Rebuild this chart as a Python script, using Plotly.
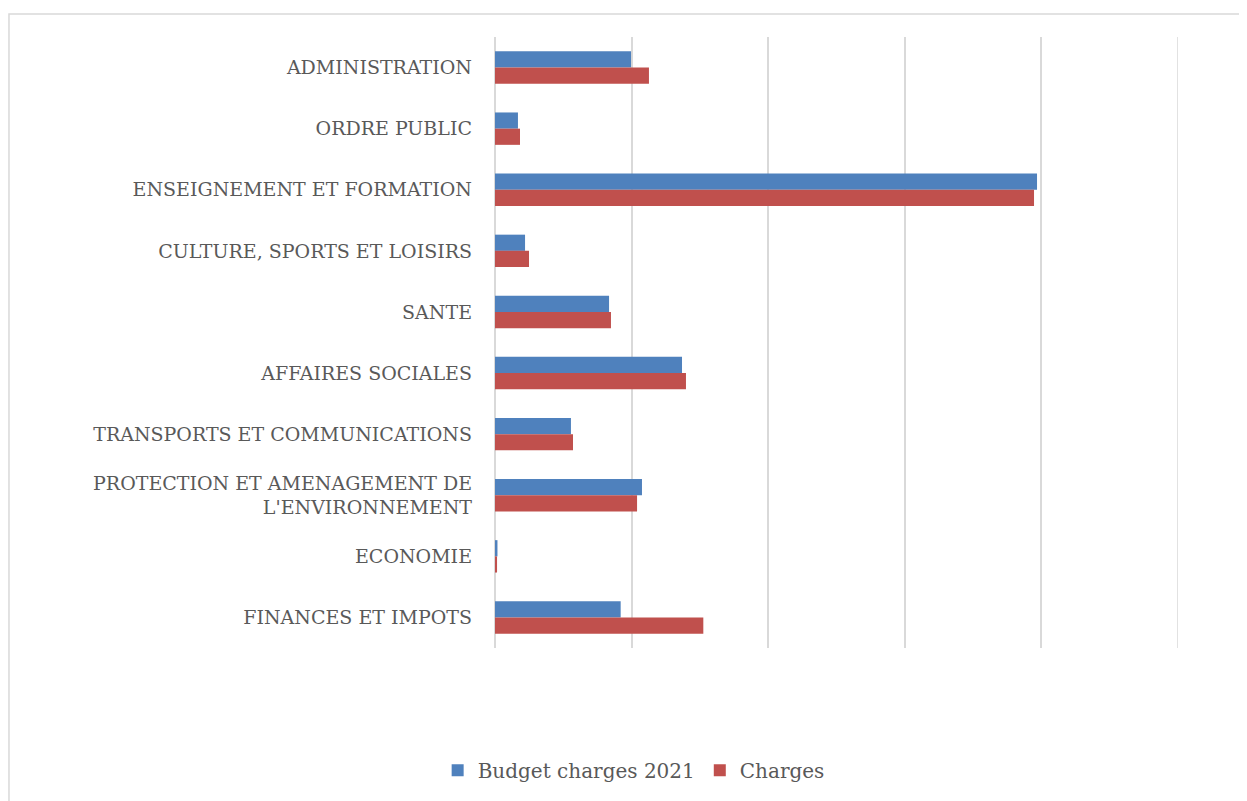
import plotly.graph_objects as go

categories = [
    "ADMINISTRATION",
    "ORDRE PUBLIC",
    "ENSEIGNEMENT ET FORMATION",
    "CULTURE, SPORTS ET LOISIRS",
    "SANTE",
    "AFFAIRES SOCIALES",
    "TRANSPORTS ET COMMUNICATIONS",
    "PROTECTION ET AMENAGEMENT DE<br>L'ENVIRONNEMENT",
    "ECONOMIE",
    "FINANCES ET IMPOTS",
]
budget_2021 = [9.96, 1.68, 39.68, 2.2, 8.35, 13.69, 5.56, 10.76, 0.18, 9.2]
charges = [11.27, 1.83, 39.46, 2.49, 8.49, 13.98, 5.71, 10.4, 0.15, 15.25]

font_family = "DejaVu Serif"
text_color = "#595959"
grid_color = "#d9d9d9"
x_max = 50

fig = go.Figure()
fig.add_trace(go.Bar(name="Budget charges 2021", y=categories, x=budget_2021,
                     orientation="h", marker=dict(color="#4f81bd", line=dict(width=0))))
fig.add_trace(go.Bar(name="Charges", y=categories, x=charges,
                     orientation="h", marker=dict(color="#c0504d", line=dict(width=0))))

fig.update_layout(
    width=1239, height=793,
    paper_bgcolor="white", plot_bgcolor="white",
    margin=dict(l=487, r=69, t=29, b=153, autoexpand=False),
    barmode="group", bargap=0.47, bargroupgap=0,
    font=dict(family=font_family, size=19, color=text_color),
    xaxis=dict(range=[0, x_max], dtick=10, showticklabels=False, showgrid=True,
               gridcolor=grid_color, gridwidth=1.5, zeroline=True,
               zerolinecolor=grid_color, zerolinewidth=1.5, fixedrange=True),
    yaxis=dict(autorange="reversed", showgrid=False, ticks="", ticklabelstandoff=22,
               tickfont=dict(family=font_family, size=19, color=text_color)),
    legend=dict(orientation="h", x=0.203, xanchor="center", y=-0.2, yanchor="middle",
                font=dict(family=font_family, size=20, color=text_color),
                traceorder="normal", itemwidth=30),
    showlegend=True,
    shapes=[
        dict(type="rect", xref="paper", yref="paper",
             x0=-0.7116, x1=1.2, y0=-0.3, y1=1.0376,
             line=dict(color=grid_color, width=1.5), fillcolor="rgba(0,0,0,0)",
             layer="below"),
        dict(type="line", xref="x", yref="paper", x0=x_max, x1=x_max, y0=0, y1=1,
             line=dict(color=grid_color, width=1.5), layer="below"),
    ],
)

fig.write_html("out.html")
